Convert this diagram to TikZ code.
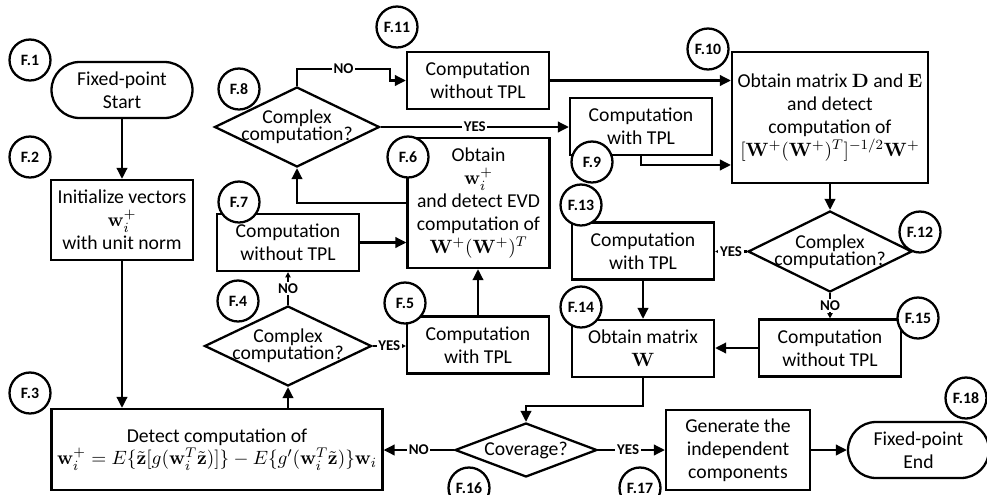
\documentclass[tikz,border=0pt]{standalone}
\usepackage{amsmath}
\usepackage[no-math]{fontspec}
\setmainfont{Carlito}
\usetikzlibrary{shapes.geometric, arrows.meta}

\newcommand{\tightq}{\fontsize{11.2}{9.5}\selectfont\setlength{\lineskiplimit}{-20pt}\setlength{\lineskip}{0pt}}

\tikzset{
  stepbox/.style={draw, rectangle, align=center, inner sep=1pt, minimum width=2.84cm, minimum height=1.14cm},
  terminal/.style={draw, rectangle, rounded corners=0.56cm, align=center, minimum width=2.82cm, minimum height=1.12cm},
  decision/.style={draw, diamond, aspect=2, inner sep=0pt, minimum width=3.3cm, minimum height=1.6cm},
  qtext/.style={align=center, inner sep=0pt, font=\tightq},
  tag/.style={draw, circle, fill=white, inner sep=0pt, minimum size=0.82cm, font=\bfseries\fontsize{9}{10}\selectfont},
  answer/.style={fill=white, inner sep=1pt, font=\bfseries\fontsize{8.5}{9}\selectfont},
  short/.style={-{Triangle[length=3pt,width=3pt]}},
}

\begin{document}
\begin{tikzpicture}[x=0.02cm, y=-0.02cm, line width=1.3pt, >={Triangle[length=0.22cm,width=0.21cm]}, font=\fontsize{11.2}{13}\selectfont]
  \useasboundingbox (0,0) rectangle (987,494);

  % Start and initialization
  \node[terminal] (start) at (122,90) {Fixed-point\\Start};
  \node[stepbox, minimum height=1.6cm] (init) at (122,220) {Initialize vectors\\$\mathbf{w}_i^+$\\with unit norm};
  \node[stepbox, minimum width=6.62cm, minimum height=1.62cm] (detect) at (217,449.5) {Detect computation of\\$\mathbf{w}_i^+ = E\{\tilde{\mathbf{z}}[g(\mathbf{w}_i^T\tilde{\mathbf{z}})]\} - E\{g'(\mathbf{w}_i^T\tilde{\mathbf{z}})\}\mathbf{w}_i$};

  % First test: EVD step
  \node[decision, minimum width=3.34cm] (cplx4) at (288,346) {};
  \node[qtext] (q4) at (cplx4) {Complex\\computation?};
  \node[stepbox] (plain7) at (288,242.5) {Computation\\without TPL};
  \node[stepbox] (tpl5) at (478,345) {Computation\\with TPL};
  \node[stepbox, minimum height=2.6cm] (evd6) at (478.5,203) {Obtain\\$\mathbf{w}_i^+$\\and detect EVD\\computation of\\$\mathbf{W}^+(\mathbf{W}^+)^T$};

  % Second test: whitening step
  \node[decision] (cplx8) at (297,127) {};
  \node[qtext] (q8) at (cplx8) {Complex\\computation?};
  \node[stepbox] (plain11) at (478,80.5) {Computation\\without TPL};
  \node[stepbox] (tpl9) at (641,126.5) {Computation\\with TPL};
  \node[stepbox, minimum width=3.92cm, minimum height=2.62cm] (dec10) at (830,117.5) {Obtain matrix $\mathbf{D}$ and $\mathbf{E}$\\and detect\\computation of\\$[\mathbf{W}^+(\mathbf{W}^+)^T]^{-1/2}\mathbf{W}^+$};

  % Third test: matrix W
  \node[decision, minimum width=3.28cm, minimum height=1.62cm] (cplx12) at (830,251.5) {};
  \node[qtext] (q12) at (cplx12) {Complex\\computation?};
  \node[stepbox] (tpl13) at (643,251) {Computation\\with TPL};
  \node[stepbox] (plain15) at (830,348) {Computation\\without TPL};
  \node[stepbox] (mat14) at (643,348.5) {Obtain matrix\\$\mathbf{W}$};

  % Convergence and end
  \node[decision, minimum width=2.84cm, minimum height=1.08cm] (conv16) at (526,450) {};
  \node[qtext] (q16) at (conv16) {Coverage?};
  \node[stepbox, minimum width=2.88cm, minimum height=1.6cm] (gen17) at (738,450) {Generate the\\independent\\components};
  \node[terminal] (stop) at (918.5,450) {Fixed-point\\End};

  \coordinate (jog8) at (390,69);

  % Arrows
  \draw[->] (start) -- (init);
  \draw[->] (init) -- (init |- detect.north);
  \draw[->] (cplx4 |- detect.north) -- (cplx4.south);
  \draw[short] (cplx4.north) -- node[answer] {NO} (plain7.south);
  \draw[short] (cplx4.east) -- node[answer] {YES} (cplx4.east -| tpl5.west);
  \draw[->] (tpl5.north) -- (tpl5.north |- evd6.south);
  \draw[->] (plain7.east) -- (plain7.east -| evd6.west);
  \draw[->] (evd6.west) -| (cplx8.south);
  \draw[->] (cplx8.north) |- node[answer, pos=0.75] {NO} (jog8) |- (plain11.west);
  \draw[->] (cplx8.east) -- node[answer] {YES} (cplx8.east -| tpl9.west);
  \draw[->] (plain11.east) -- (plain11.east -| dec10.west);
  \draw[->] (tpl9.south) |- ([yshift=-0.95cm]dec10.west);
  \draw[->] (dec10.south) -- (cplx12.north);
  \draw[short] (cplx12.west) -- node[answer] {YES} (cplx12.west -| tpl13.east);
  \draw[short] (cplx12.south) -- node[answer] {NO} (cplx12.south |- plain15.north);
  \draw[->] (tpl13.south) -- (tpl13.south |- mat14.north);
  \draw[->] (plain15.west) -- (plain15.west -| mat14.east);
  \draw[->] (mat14.south) -- ++(0,28) -| (conv16.north);
  \draw[->] (conv16.west) -- node[answer] {NO} (conv16.west -| detect.east);
  \draw[->] (conv16.east) -- node[answer, pos=0.45] {YES} (conv16.east -| gen17.west);
  \draw[->] (gen17) -- (stop);

  % Step tags
  \node[tag] (f1) at (30,60) {F.1};
  \node[tag] (f2) at (30,157) {F.2};
  \node[tag] (f3) at (30,393) {F.3};
  \node[tag] (f4) at (238,301) {F.4};
  \node[tag] (f5) at (405,303) {F.5};
  \node[tag] (f6) at (408,157) {F.6};
  \node[tag] (f7) at (239,202) {F.7};
  \node[tag] (f8) at (239,89) {F.8};
  \node[tag] (f9) at (592,162) {F.9};
  \node[tag] (f10) at (708,49) {F.10};
  \node[tag] (f11) at (397,27) {F.11};
  \node[tag] (f12) at (920,232) {F.12};
  \node[tag] (f13) at (581,205) {F.13};
  \node[tag] (f14) at (581,307) {F.14};
  \node[tag] (f15) at (918,318) {F.15};
  \node[tag] (f16) at (469,488) {F.16};
  \node[tag] (f17) at (640,488) {F.17};
  \node[tag] (f18) at (966,398) {F.18};
\end{tikzpicture}
\end{document}
